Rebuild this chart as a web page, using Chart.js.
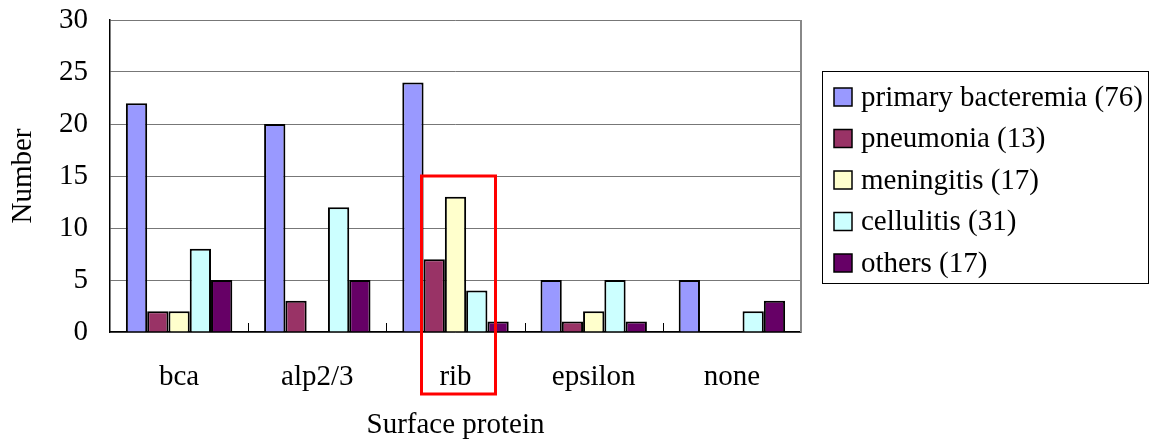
<!DOCTYPE html>
<html>
<head>
<meta charset="utf-8">
<script src="https://cdn.jsdelivr.net/npm/chart.js@4.4.1/dist/chart.umd.min.js"></script>
<style>
    html, body { margin: 0; padding: 0; background: #fff; }
    #wrap { width: 1153px; height: 443px; }
</style>
</head>
<body>
<div id="wrap"><canvas id="grafico"></canvas></div>
<script>
const categorias = ['bca', 'alp2/3', 'rib', 'epsilon', 'none']

const series = ['primary bacteremia (76)', 'pneumonia (13)', 'meningitis (17)', 'cellulitis (31)', 'others (17)']

const primaria = [22, 20, 24, 5, 5]
const pneumonia = [2, 3, 7, 1, 0]
const meningite = [2, 0, 13, 2, 0]
const celulite = [8, 12, 4, 5, 2]
const outros = [5, 5, 1, 1, 3]

const cores = ['#9999FF', '#993366', '#FFFFCC', '#CCFFFF', '#660066']

const yTicks = [0, 5, 10, 15, 20, 25, 30]

// destaque em vermelho no grupo "rib"
const destaqueIndex = 2
const destaqueTopo = 15

const fonte = "'Liberation Serif', 'Times New Roman', serif"

const valores = [primaria, pneumonia, meningite, celulite, outros]

const datasets = valores.map((v, i) => ({
    label: series[i],
    data: v,
    backgroundColor: cores[i],
    borderColor: '#000',
    borderWidth: 2,
    barPercentage: 1,
    categoryPercentage: 0.77
}))

const extras = {
    id: 'extras',
    afterDatasetsDraw(chart) {
        const { ctx, chartArea, scales } = chart
        const x = scales.x
        const y = scales.y
        ctx.save()

        // borda direita cinza
        ctx.strokeStyle = '#888'
        ctx.lineWidth = 2
        ctx.beginPath()
        ctx.moveTo(chartArea.right, chartArea.top)
        ctx.lineTo(chartArea.right, chartArea.bottom)
        ctx.stroke()

        // marcas entre categorias (para cima)
        ctx.strokeStyle = '#000'
        ctx.lineWidth = 1
        const passo = chartArea.width / categorias.length
        for (let i = 1; i < categorias.length; i++) {
            const px = Math.round(x.getPixelForValue(i) - passo / 2) + 0.5
            ctx.beginPath()
            ctx.moveTo(px, chartArea.bottom)
            ctx.lineTo(px, chartArea.bottom - 9)
            ctx.stroke()
        }

        // retangulo vermelho
        const cx = x.getPixelForValue(destaqueIndex) + 3
        const topo = y.getPixelForValue(destaqueTopo)
        ctx.strokeStyle = '#FF0000'
        ctx.lineWidth = 3
        ctx.strokeRect(cx - 37, topo, 74, chartArea.bottom + 62 - topo)

        // legenda
        const lx = 822, ly = 71, lw = 326, lh = 212
        ctx.strokeStyle = '#000'
        ctx.lineWidth = 1
        ctx.fillStyle = '#fff'
        ctx.fillRect(lx, ly, lw, lh)
        ctx.strokeRect(lx + 0.5, ly + 0.5, lw, lh)
        ctx.font = '29px ' + fonte
        ctx.textBaseline = 'middle'
        chart.data.datasets.forEach((ds, i) => {
            const cy = 97 + i * 41.5
            ctx.fillStyle = ds.backgroundColor
            ctx.fillRect(834, cy - 9, 18, 18)
            ctx.strokeStyle = '#000'
            ctx.lineWidth = 1.5
            ctx.strokeRect(834, cy - 9, 18, 18)
            ctx.fillStyle = '#000'
            ctx.fillText(ds.label, 861, cy + 1)
        })
        ctx.restore()
    }
}

new Chart(document.getElementById('grafico'), {
    type: 'bar',
    data: { labels: categorias, datasets: datasets },
    options: {
        responsive: true,
        maintainAspectRatio: false,
        animation: false,
        layout: { padding: { left: 0, top: 20, right: 352, bottom: 0 } },
        plugins: {
            legend: { display: false },
            tooltip: { enabled: false }
        },
        scales: {
            x: {
                afterFit: (scale) => { scale.height = 111; scale.paddingLeft = 0; scale.paddingRight = 0 },
                grid: { display: false, drawTicks: false },
                border: { color: '#000', width: 1.5 },
                ticks: { color: '#000', font: { family: fonte, size: 29 }, padding: 28 },
                title: {
                    display: true,
                    text: 'Surface protein',
                    color: '#000',
                    font: { family: fonte, size: 29 },
                    padding: { top: 0, bottom: 0 }
                }
            },
            y: {
                min: 0,
                max: 30,
                afterFit: (scale) => { scale.width = 110; scale.paddingTop = 0; scale.paddingBottom = 0 },
                afterBuildTicks: (scale) => { scale.ticks = yTicks.map(v => ({ value: v })) },
                grid: { color: '#777', lineWidth: 1, drawTicks: false },
                border: { color: '#000', width: 1.5 },
                ticks: { color: '#000', font: { family: fonte, size: 29 }, padding: 22 },
                title: {
                    display: true,
                    text: 'Number',
                    color: '#000',
                    font: { family: fonte, size: 29 },
                    padding: { top: 6, bottom: 0 }
                }
            }
        }
    },
    plugins: [extras]
})
</script>
</body>
</html>
